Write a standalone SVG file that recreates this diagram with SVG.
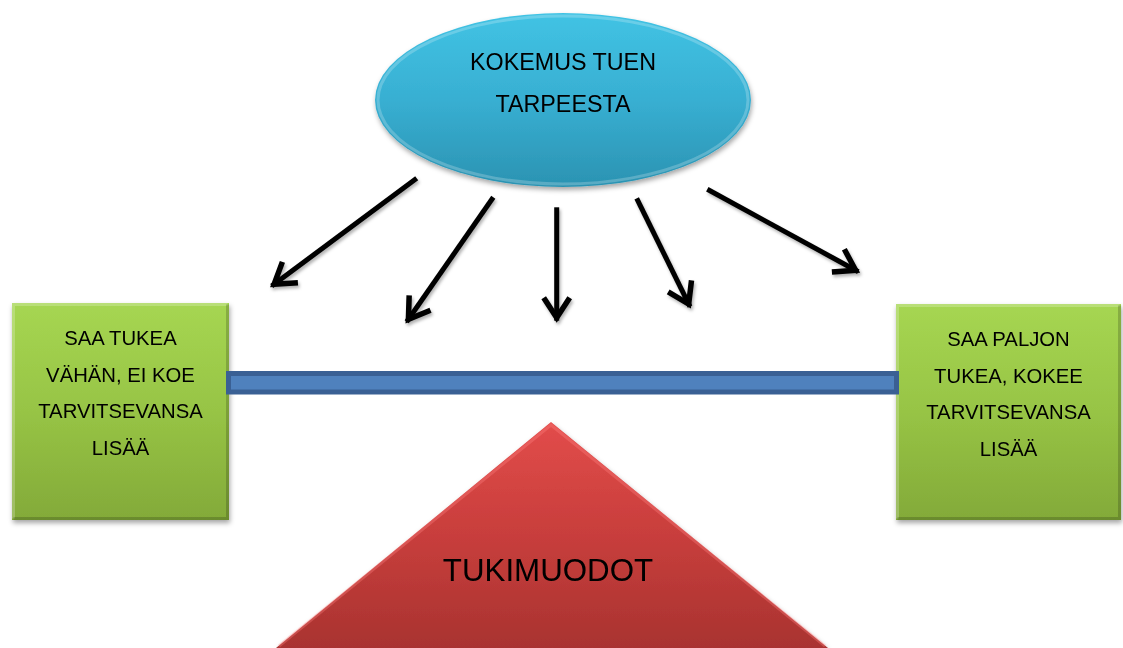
<svg xmlns="http://www.w3.org/2000/svg" width="1123" height="648" viewBox="0 0 1123 648">
<style>
  text { font-family: "Liberation Sans", Arial, sans-serif; fill: #000; text-anchor: middle; }
  .t-ell { font-size: 23.3px; }
  .t-box { font-size: 20.3px; }
  .t-tri { font-size: 31.3px; }
  .arrow { fill: none; stroke: #000; stroke-width: 5; stroke-linecap: butt; marker-end: url(#head); }
  .bevel-hi { fill: none; stroke: #ffffff; stroke-opacity: 0.22; stroke-width: 3; }
  .bevel-lo { fill: none; stroke: #000000; stroke-opacity: 0.18; stroke-width: 3; }
</style>
<defs>
  <linearGradient id="gEll" x1="0" y1="0" x2="0" y2="1">
    <stop offset="0" stop-color="#41c3e4"/>
    <stop offset="0.5" stop-color="#38afd2"/>
    <stop offset="1" stop-color="#2b93b2"/>
  </linearGradient>
  <linearGradient id="gBox" x1="0" y1="0" x2="0" y2="1">
    <stop offset="0" stop-color="#a6d652"/>
    <stop offset="0.5" stop-color="#97c445"/>
    <stop offset="1" stop-color="#83aa39"/>
  </linearGradient>
  <linearGradient id="gTri" x1="0" y1="0" x2="0" y2="1">
    <stop offset="0" stop-color="#e24c4a"/>
    <stop offset="0.5" stop-color="#c83e3c"/>
    <stop offset="1" stop-color="#a93330"/>
  </linearGradient>
  <filter id="shadow" x="-10%" y="-10%" width="125%" height="130%">
    <feDropShadow dx="1" dy="3" stdDeviation="2.5" flood-color="#000" flood-opacity="0.35"/>
  </filter>
  <filter id="ashadow" x="-20%" y="-20%" width="140%" height="140%">
    <feDropShadow dx="1.5" dy="2.5" stdDeviation="1.8" flood-color="#000" flood-opacity="0.3"/>
  </filter>
  <marker id="head" markerUnits="userSpaceOnUse" viewBox="-30 -20 40 40" markerWidth="40" markerHeight="40" refX="3" refY="0" orient="auto">
    <path d="M-20,-13 L0,0 L-20,13" fill="none" stroke="#000" stroke-width="5.5" stroke-linejoin="miter"/>
  </marker>
</defs>

<g id="node-ellipse" filter="url(#shadow)">
  <ellipse cx="563" cy="100" rx="188" ry="87" fill="url(#gEll)"/>
  <ellipse cx="563" cy="100" rx="185" ry="84" class="bevel-hi"/>
  <text class="t-ell" x="563" y="69.5">KOKEMUS TUEN</text>
  <text class="t-ell" x="563" y="111.5">TARPEESTA</text>
</g>

<g id="node-left" filter="url(#shadow)">
  <rect x="12" y="303" width="217" height="217" fill="url(#gBox)"/>
  <path d="M13.5,518.5 V304.5 H227.5" class="bevel-hi"/>
  <path d="M13.5,518.5 H227.5 V304.5" class="bevel-lo"/>
  <text class="t-box" x="120.5" y="345">SAA TUKEA</text>
  <text class="t-box" x="120.5" y="382">VÄHÄN, EI KOE</text>
  <text class="t-box" x="120.5" y="418">TARVITSEVANSA</text>
  <text class="t-box" x="120.5" y="455">LISÄÄ</text>
</g>

<g id="node-right" filter="url(#shadow)">
  <rect x="896" y="304" width="225" height="216" fill="url(#gBox)"/>
  <path d="M897.5,518.5 V305.5 H1119.5" class="bevel-hi"/>
  <path d="M897.5,518.5 H1119.5 V305.5" class="bevel-lo"/>
  <text class="t-box" x="1008.5" y="346">SAA PALJON</text>
  <text class="t-box" x="1008.5" y="383">TUKEA, KOKEE</text>
  <text class="t-box" x="1008.5" y="419">TARVITSEVANSA</text>
  <text class="t-box" x="1008.5" y="456">LISÄÄ</text>
</g>

<g id="node-bar">
  <rect x="228.5" y="373.5" width="668" height="18.5" fill="#4f81bd" stroke="#3a6094" stroke-width="5"/>
</g>

<g id="node-triangle" filter="url(#shadow)">
  <polygon points="551,422 276,648 828,648" fill="url(#gTri)"/>
  <path d="M279,646 L551,425 L825,646" fill="none" stroke="#ff8080" stroke-opacity="0.35" stroke-width="3"/>
  <text class="t-tri" x="548" y="581">TUKIMUODOT</text>
</g>

<g id="connectors" filter="url(#ashadow)">
  <line class="arrow" x1="416.7" y1="178.3" x2="271.7" y2="286"/>
  <line class="arrow" x1="493.3" y1="197.3" x2="406.7" y2="321.7"/>
  <line class="arrow" x1="556.7" y1="207.3" x2="556.7" y2="320.7"/>
  <line class="arrow" x1="636.7" y1="198.3" x2="690" y2="306.7"/>
  <line class="arrow" x1="707.3" y1="189.3" x2="858.3" y2="271.7"/>
</g>
</svg>
